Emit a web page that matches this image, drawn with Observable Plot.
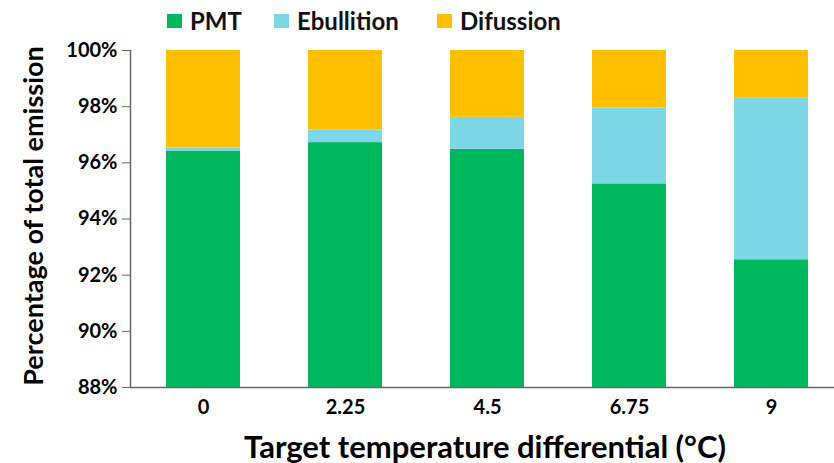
<!DOCTYPE html>
<html>
<head>
<meta charset="utf-8">
<script src="https://cdn.jsdelivr.net/npm/d3@7"></script>
<script src="https://cdn.jsdelivr.net/npm/@observablehq/plot@0.6"></script>
<style>
  body { margin: 0; background: #fff; font-family: Lato, "Open Sans", sans-serif; }
  #wrap { position: relative; width: 834px; height: 463px; overflow: hidden; }
  #chart { position: absolute; left: 0; top: 0; }
  .legend span { position: absolute; top: 7px; display: flex; align-items: center; font-size: 24px; line-height: 28px; font-weight: bold; color: #111; white-space: nowrap; }
  .legend i { display: inline-block; width: 15px; height: 14px; margin-right: 8px; }
  .ytitle { position: absolute; left: 33px; top: 216px; transform: translate(-50%, -50%) rotate(-90deg); white-space: nowrap; font-size: 27px; line-height: 30px; font-weight: bold; color: #000; }
  .xtitle { position: absolute; left: 485px; top: 446px; transform: translate(-50%, -50%); white-space: nowrap; font-size: 31px; line-height: 31px; font-weight: bold; color: #000; }
</style>
</head>
<body>
<div id="wrap">
  <div id="chart"></div>
  <div class="legend" id="legend"></div>
  <div class="ytitle">Percentage of total emission</div>
  <div class="xtitle">Target temperature differential (°C)</div>
</div>
<script>
const categories = ["0", "2.25", "4.5", "6.75", "9"]
const series = ["PMT", "Ebullition", "Difussion"]
const pmt = [96.42, 96.72, 96.48, 95.25, 92.55]
const ebullition = [0.11, 0.45, 1.14, 2.70, 5.75]
const difussion = [3.47, 2.83, 2.38, 2.05, 1.70]
const colors = ["#00b95e", "#7dd7e6", "#ffc000"]
const yTicks = [88, 90, 92, 94, 96, 98, 100]
const legendLeft = [167, 274, 437]

const values = [pmt, ebullition, difussion]
const data = []
series.forEach((s, i) => {
  categories.forEach((c, j) => data.push({cat: c, series: s, value: values[i][j]}))
})

let chart = Plot.plot({
  width: 834,
  height: 463,
  marginLeft: 130,
  marginTop: 50,
  marginBottom: 76,
  marginRight: 0,
  style: {fontFamily: "Lato, 'Open Sans', sans-serif", fontWeight: "bold", color: "#000", background: "#fff"},
  x: {domain: categories, range: [130, 843], paddingInner: 0.48, paddingOuter: 0.24, label: null},
  y: {domain: [88, 100], label: null},
  color: {domain: series, range: colors},
  marks: [
    Plot.barY(data, {x: "cat", y: "value", fill: "series", order: series, clip: true}),
    Plot.axisY({ticks: yTicks, tickFormat: d => d + "%", tickSize: 8, tickPadding: 5, fontSize: 20, label: null, stroke: "#666"}),
    Plot.axisX({tickSize: 0, tickPadding: 12, fontSize: 20, label: null}),
    Plot.ruleY([88], {stroke: "#666", strokeWidth: 1.5})
  ]
})

d3.select('#chart').append(() => chart)

// y axis line on the left edge of the frame
d3.select(chart).append("line")
  .attr("x1", 130.5).attr("x2", 130.5).attr("y1", 50).attr("y2", 387)
  .attr("stroke", "#666").attr("stroke-width", 1.5)

const legend = d3.select('#legend')
series.forEach((s, i) => {
  const item = legend.append("span").style("left", legendLeft[i] + "px")
  item.append("i").style("background", colors[i])
  item.append("text").text(s)
})
</script>
</body>
</html>
